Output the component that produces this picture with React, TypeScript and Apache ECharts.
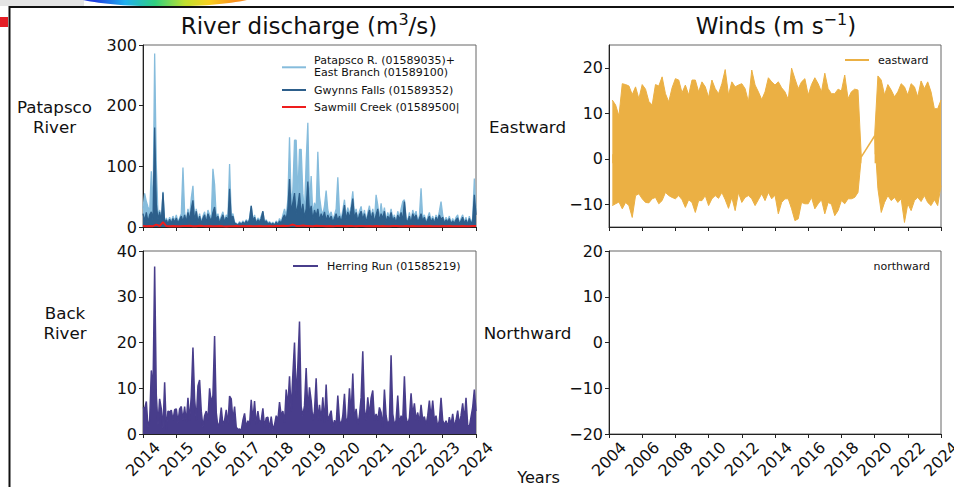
import React, { useEffect, useRef } from "react";
import * as echarts from "echarts";

// ---------- data ----------
const riverStart = 2014;
const riverStep = 0.05; // years between samples
const patapsco = [
  30, 55.6, 42, 33, 25, 92, 20, 286, 100, 20,
  28, 10, 58, 8, 15, 8, 16, 9, 18, 10,
  20, 8, 15, 22, 98, 24, 10, 30, 15, 48,
  68, 14, 30, 10, 22, 8, 18, 25, 10, 28,
  20, 14, 96, 70, 16, 22, 8, 18, 25, 10,
  20, 14, 104, 18, 22, 8, 6, 4, 9, 5,
  10, 6, 12, 8, 15, 35, 12, 20, 8, 15,
  10, 18, 26, 8, 12, 6, 9, 5, 8, 4,
  10, 6, 14, 8, 20, 30, 18, 45, 148, 40,
  60, 143, 143, 50, 128, 128, 55, 25, 108, 172,
  35, 84, 20, 40, 30, 124, 50, 30, 20, 35,
  60, 28, 18, 25, 12, 20, 30, 82, 25, 12,
  28, 45, 18, 32, 20, 35, 59, 20, 30, 14,
  26, 34, 16, 28, 10, 24, 35, 16, 30, 10,
  53, 36, 14, 39, 18, 32, 10, 24, 16, 30,
  14, 20, 8, 26, 16, 30, 42, 45, 16, 10,
  24, 8, 28, 18, 26, 10, 18, 64, 14, 20,
  8, 16, 24, 10, 18, 8, 20, 12, 26, 42,
  20, 8, 16, 10, 18, 6, 14, 8, 16, 20,
  6, 14, 20, 8, 16, 5, 18, 8, 14, 80,
  25,
];
const gwynns = [
  22, 10, 24, 8, 20, 25, 12, 164, 38, 12,
  25, 8, 57, 6, 12, 5, 13, 6, 14, 8,
  15, 6, 12, 18, 9, 20, 8, 24, 12, 30,
  44, 10, 26, 8, 18, 6, 14, 20, 7, 22,
  15, 10, 24, 33, 12, 18, 6, 14, 20, 8,
  16, 10, 63, 14, 18, 6, 5, 3, 7, 4,
  8, 5, 10, 6, 12, 35, 10, 16, 6, 12,
  8, 14, 26, 6, 10, 5, 7, 4, 6, 3,
  8, 4, 10, 6, 15, 20, 12, 30, 79, 25,
  40, 56, 22, 35, 56, 20, 38, 15, 30, 75,
  22, 35, 12, 28, 18, 30, 10, 22, 14, 25,
  10, 20, 12, 18, 8, 15, 22, 10, 18, 8,
  20, 36, 12, 25, 15, 28, 47, 14, 24, 10,
  20, 26, 12, 22, 8, 18, 28, 12, 24, 8,
  20, 30, 10, 22, 14, 26, 8, 18, 12, 24,
  10, 16, 6, 20, 12, 24, 10, 42, 12, 8,
  18, 6, 22, 14, 20, 8, 14, 22, 10, 16,
  6, 12, 18, 8, 14, 6, 16, 10, 20, 12,
  16, 6, 12, 8, 14, 5, 10, 6, 12, 15,
  5, 10, 16, 6, 12, 4, 14, 6, 10, 53,
  20,
];
const sawmillStep = 0.1;
const sawmill = [
  1.5, 1.2, 1.8, 1.4, 4.0, 1.6, 8.0, 1.5, 1.3, 1.7,
  1.4, 1.2, 1.6, 1.5, 1.9, 1.3, 1.4, 2.0, 1.5, 1.2,
  1.6, 1.4, 1.3, 1.8, 1.2, 1.0, 1.4, 1.1, 1.5, 1.3,
  1.6, 1.2, 1.5, 1.4, 1.1, 1.6, 1.3, 1.2, 1.5, 1.4,
  1.8, 1.5, 2.0, 1.6, 2.2, 4.0, 1.8, 1.5, 2.4, 1.6,
  1.7, 1.4, 1.9, 1.5, 1.6, 1.3, 1.8, 1.4, 1.5, 1.7,
  1.6, 1.3, 1.8, 1.5, 1.4, 1.7, 1.5, 1.2, 1.6, 1.4,
  1.5, 1.3, 1.7, 1.4, 1.2, 1.6, 1.5, 1.3, 1.4, 1.6,
  1.2, 1.5, 1.3, 1.4, 1.7, 1.2, 1.5, 1.3, 1.4, 1.2,
  1.6, 1.3, 1.5, 1.2, 1.4, 1.3, 1.5, 1.2, 1.4, 1.8,
  1.6,
];
const herring = [
  5.8, 5.5, 7.1, 1.5, 3, 13.9, 9.1, 36.6, 8.4, 2,
  7.7, 5.5, 1.2, 11.3, 1, 5, 4.8, 5.2, 3, 5.3,
  5.5, 2.5, 5.5, 6, 3, 6, 2.5, 7.9, 3, 8.4,
  18.9, 7.7, 3, 10.5, 11.8, 5, 1.5, 4, 5, 3,
  10, 6.8, 8.4, 21.4, 4.7, 1.5, 2.5, 5.8, 2, 3,
  5.3, 2, 8.3, 7.7, 3, 6, 1.5, 1, 1.1, 0.8,
  3, 4.5, 1.5, 2.9, 2, 7.5, 3, 7.2, 2, 5,
  2.5, 3, 5.6, 1.5, 3.5, 3.7, 1.2, 3.8, 1, 2,
  4, 3, 7, 4, 5, 2.5, 9.7, 6, 12.6, 5,
  13, 20, 8, 15, 24.6, 6, 4, 6.2, 14.4, 5,
  10.2, 7.3, 3, 5, 12.2, 3, 6.4, 3, 8, 2.5,
  10.8, 3, 4, 5.1, 1.5, 3, 2, 8.4, 3, 2,
  4, 8.8, 2.5, 3.5, 10, 4, 13.2, 3, 5.5, 2,
  4, 8, 18.1, 5.5, 3, 8, 4, 7.9, 9.5, 3,
  4.4, 3, 5.8, 4.7, 1.5, 9.7, 4, 2, 3, 17.2,
  4.4, 2, 3, 8.4, 2, 4, 3, 12.6, 3.7, 2,
  3.5, 8.9, 4, 6.7, 3, 4.7, 2.5, 6.4, 3, 3.8,
  2, 4, 7.3, 3.5, 7.3, 3, 4, 1.5, 3, 7.9,
  3, 2, 2.9, 1.5, 3.7, 2, 4.4, 1.5, 3, 5.1,
  2, 4, 6.7, 3, 7.9, 2, 1.5, 3.7, 5.8, 9.7,
  5,
];

// Eastward wind envelopes (upper / lower extremes), sampled every 0.2 yr
const windStep = 0.2;
const eastSeg1Start = 2004.2;
const eastHigh1 = [
  12.9, 11.8, 9.4, 16.5, 16.3, 16.0, 14.1, 15.8, 13.2, 16.3,
  15.3, 12.6, 11.8, 16.3, 16.0, 18.0, 14.3, 12.5, 15.6, 17.6,
  17.3, 14.5, 16.2, 14.0, 17.3, 17.3, 14.7, 16.9, 15.8, 13.5,
  17.3, 15.4, 14.3, 16.5, 19.6, 14.0, 16.9, 15.8, 16.2, 16.5,
  15.4, 12.5, 19.5, 16.2, 14.7, 13.0, 14.7, 17.8, 16.9, 16.2,
  16.9, 15.6, 14.7, 13.0, 19.9, 17.6, 15.4, 16.9, 17.6, 14.0,
  16.3, 17.8, 16.5, 14.7, 18.8, 15.4, 14.3, 14.3, 15.3, 14.9,
  18.4, 13.2, 14.7, 15.3, 15.1, 0.4,
];
const eastLow1 = [
  -10.3, -9.9, -9.5, -11.0, -9.6, -10.3, -12.9, -8.1, -7.7, -8.8,
  -9.6, -9.7, -8.8, -8.5, -9.9, -9.2, -7.4, -8.1, -8.5, -8.8,
  -8.1, -9.0, -10.7, -9.0, -9.6, -11.8, -9.2, -9.2, -8.1, -10.3,
  -8.8, -8.1, -8.7, -7.4, -9.0, -10.9, -8.5, -11.4, -7.4, -9.6,
  -8.5, -8.1, -8.8, -10.3, -9.0, -7.7, -9.2, -7.4, -8.8, -8.0,
  -12.1, -9.6, -8.8, -8.8, -11.0, -13.6, -13.2, -9.6, -9.9, -9.9,
  -8.5, -11.0, -9.9, -9.0, -12.1, -9.6, -10.0, -12.5, -11.4, -9.2,
  -9.9, -8.8, -8.8, -8.5, -7.4, 0.4,
];
const eastSeg2Start = 2020.0;
const eastHigh2 = [
  5.0, 18.2, 17.3, 14.0, 16.3, 15.1, 13.6, 14.7, 16.5, 15.8,
  14.0, 16.5, 15.8, 13.6, 17.1, 15.4, 16.9, 14.7, 11.0, 11.0,
  12.9,
];
const eastLow2 = [
  5.0, -6.6, -11.8, -9.6, -8.1, -9.2, -8.5, -9.6, -8.8, -14.0,
  -9.9, -11.4, -9.2, -8.5, -9.4, -8.1, -9.6, -10.3, -9.0, -10.3,
  -5.9,
];

const riverRange = [2014, 2024];
const windRange = [2004, 2024];
const eastTicks = [-10, 0, 10, 20];

const FONT = "DejaVu Sans";
const C_PAT = "#86bcdc";
const C_GWY = "#2d5f8b";
const C_SAW = "#ee1d1d";
const C_HER = "#483d8b";
const C_EAST = "#ebb044";

const minus = (v: number) => String(v).replace("-", "\u2212");

function App() {
  const ref = useRef<HTMLDivElement>(null);
  useEffect(() => {
    if (!ref.current) return;
    const chart = echarts.init(ref.current, null, { renderer: "svg" });

    const grids = [
      { left: 143, top: 45, width: 333, height: 182 },
      { left: 143, top: 251, width: 333, height: 183 },
      { left: 609, top: 45, width: 332, height: 182 },
      { left: 609, top: 251, width: 332, height: 183 },
    ].map((g) => ({
      ...g,
      show: true,
      borderColor: "#666",
      borderWidth: 1,
      outerBoundsMode: "none",
      containLabel: false,
    }));

    const axisCommon = {
      axisLine: { show: true, onZero: false, lineStyle: { color: "#222", width: 1 } },
      axisTick: { show: true, inside: false, length: 4, lineStyle: { color: "#222", width: 1 } },
      splitLine: { show: false },
    };
    const xLabel = (show: boolean) => ({
      show,
      rotate: 45,
      fontSize: 16,
      fontFamily: FONT,
      color: "#111",
      margin: 25,
      align: "center",
      verticalAlign: "middle",
      showMinLabel: true,
      showMaxLabel: true,
      formatter: (v: number) => String(Math.round(v)),
    });
    const yLabel = {
      fontSize: 16,
      fontFamily: FONT,
      color: "#111",
      margin: 6,
      formatter: (v: number) => minus(v),
    };

    const xAxis = [
      { gridIndex: 0, type: "value", min: riverRange[0], max: riverRange[1], interval: 1, ...axisCommon, axisLabel: xLabel(false) },
      { gridIndex: 1, type: "value", min: riverRange[0], max: riverRange[1], interval: 1, ...axisCommon, axisLabel: xLabel(true) },
      { gridIndex: 2, type: "value", min: windRange[0], max: windRange[1], interval: 2, ...axisCommon, axisLabel: xLabel(false) },
      { gridIndex: 3, type: "value", min: windRange[0], max: windRange[1], interval: 2, ...axisCommon, axisLabel: xLabel(true) },
    ];
    const yAxis = [
      { gridIndex: 0, type: "value", min: 0, max: 300, interval: 100, ...axisCommon, axisLabel: yLabel },
      { gridIndex: 1, type: "value", min: 0, max: 40, interval: 10, ...axisCommon, axisLabel: yLabel },
      {
        gridIndex: 2, type: "value", min: -15, max: 25, ...axisCommon,
        axisTick: { ...axisCommon.axisTick, customValues: eastTicks },
        axisLabel: { ...yLabel, customValues: eastTicks },
      },
      { gridIndex: 3, type: "value", min: -20, max: 20, interval: 10, ...axisCommon, axisLabel: yLabel },
    ];

    const riverPts = (arr: number[], step: number) => arr.map((v, i) => [riverStart + i * step, v]);
    const seg1End = eastSeg1Start + (eastHigh1.length - 1) * windStep;
    const gapMid = (seg1End + eastSeg2Start) / 2;
    const windPts = (a: number[], b: number[]) => [
      ...a.map((v, i) => [eastSeg1Start + i * windStep, v]),
      [gapMid, null],
      ...b.map((v, i) => [eastSeg2Start + i * windStep, v]),
    ];
    const gapLink = [
      [seg1End, eastHigh1[eastHigh1.length - 1]],
      [eastSeg2Start, eastHigh2[0]],
    ];

    const lineBase = { type: "line", symbol: "none", showSymbol: false, clip: true, silent: true, connectNulls: false };

    const series = [
      { ...lineBase, name: "Patapsco", xAxisIndex: 0, yAxisIndex: 0, data: riverPts(patapsco, riverStep),
        lineStyle: { color: C_PAT, width: 1.3 }, areaStyle: { color: C_PAT, opacity: 1 }, z: 2 },
      { ...lineBase, name: "Gwynns", xAxisIndex: 0, yAxisIndex: 0, data: riverPts(gwynns, riverStep),
        lineStyle: { color: C_GWY, width: 1.3 }, areaStyle: { color: C_GWY, opacity: 1 }, z: 3 },
      { ...lineBase, name: "Sawmill", xAxisIndex: 0, yAxisIndex: 0, data: riverPts(sawmill, sawmillStep),
        lineStyle: { color: C_SAW, width: 2 }, z: 4 },
      { ...lineBase, name: "Herring", xAxisIndex: 1, yAxisIndex: 1, data: riverPts(herring, riverStep),
        lineStyle: { color: C_HER, width: 1.5 }, areaStyle: { color: C_HER, opacity: 1 }, z: 2 },
      { ...lineBase, name: "eastHigh", xAxisIndex: 2, yAxisIndex: 2, data: windPts(eastHigh1, eastHigh2),
        lineStyle: { color: C_EAST, width: 1 }, areaStyle: { color: C_EAST, opacity: 1, origin: -1 }, z: 2 },
      { ...lineBase, name: "eastLow", xAxisIndex: 2, yAxisIndex: 2, data: windPts(eastLow1, eastLow2),
        lineStyle: { color: C_EAST, width: 1 }, areaStyle: { color: C_EAST, opacity: 1, origin: 1 }, z: 2 },
      { ...lineBase, name: "eastGap", xAxisIndex: 2, yAxisIndex: 2, data: gapLink,
        lineStyle: { color: C_EAST, width: 1.5 }, z: 2 },
    ];

    const txt = (x: number, y: number, text: string, fontSize: number, extra: any = {}) => ({
      type: "text",
      x,
      y,
      silent: true,
      style: { text, fontSize, fontFamily: FONT, fill: "#111", align: "center", verticalAlign: "middle", ...extra },
    });
    const legLine = (x1: number, x2: number, y: number, color: string) => ({
      type: "line",
      silent: true,
      shape: { x1, y1: y, x2, y2: y },
      style: { stroke: color, lineWidth: 2 },
    });

    const graphic = [
      { type: "rect", silent: true, shape: { x: 0, y: 0, width: 84, height: 6 }, style: { fill: "#e4e4e4" } },
      {
        type: "ellipse", silent: true, shape: { cx: 165, cy: -8.7, rx: 100, ry: 15.2 },
        style: {
          fill: new echarts.graphic.LinearGradient(0, 0, 1, 0, [
            { offset: 0.15, color: "#2040e0" },
            { offset: 0.3, color: "#20b0f0" },
            { offset: 0.45, color: "#30d080" },
            { offset: 0.6, color: "#c0e030" },
            { offset: 0.72, color: "#f8d020" },
            { offset: 0.85, color: "#f89020" },
          ]),
        },
      },
      { type: "rect", silent: true, shape: { x: 0, y: 17, width: 8, height: 10 }, style: { fill: "#e41e26" } },
      {
        type: "polyline", silent: true,
        shape: { points: [[954, 7], [9.5, 7], [9.5, 487]] },
        style: { stroke: "#111", lineWidth: 2, fill: null },
      },
      txt(309, 26, "River discharge (m{sup|3}/s)", 23, {
        lineHeight: 30,
        rich: { sup: { fontSize: 16, fontFamily: FONT, fill: "#111", lineHeight: 14, verticalAlign: "top" } },
      }),
      txt(776, 26, "Winds (m s{sup|\u22121})", 23, {
        lineHeight: 30,
        rich: { sup: { fontSize: 16, fontFamily: FONT, fill: "#111", lineHeight: 14, verticalAlign: "top" } },
      }),
      txt(54.5, 117, "Patapsco\nRiver", 16.7, { lineHeight: 20 }),
      txt(65, 323, "Back\nRiver", 16.7, { lineHeight: 20 }),
      txt(527.5, 127, "Eastward", 16.7),
      txt(527.5, 333, "Northward", 16.7),
      txt(538.5, 477, "Years", 16.2),
      legLine(282, 306, 67.3, C_PAT),
      txt(314, 66.7, "Patapsco R. (01589035)+\nEast Branch (01589100)", 11, { align: "left", lineHeight: 12.5 }),
      legLine(282, 306, 90, C_GWY),
      txt(314, 90, "Gwynns Falls (01589352)", 11, { align: "left" }),
      legLine(282, 306, 107, C_SAW),
      txt(314, 107, "Sawmill Creek (01589500|", 11, { align: "left" }),
      legLine(293, 318, 266, C_HER),
      txt(327, 266, "Herring Run (01585219)", 11, { align: "left" }),
      legLine(845, 869, 60, C_EAST),
      txt(878, 60, "eastward", 11, { align: "left" }),
      txt(930, 266, "northward", 11, { align: "right" }),
    ];

    chart.setOption({
      animation: false,
      backgroundColor: "#ffffff",
      grid: grids,
      xAxis,
      yAxis,
      series,
      graphic,
    } as any);

    return () => chart.dispose();
  }, []);

  return (
    <div
      ref={ref}
      style={{ position: "absolute", left: 0, top: 0, width: 954, height: 487, background: "#fff" }}
    />
  );
}

export default App;
